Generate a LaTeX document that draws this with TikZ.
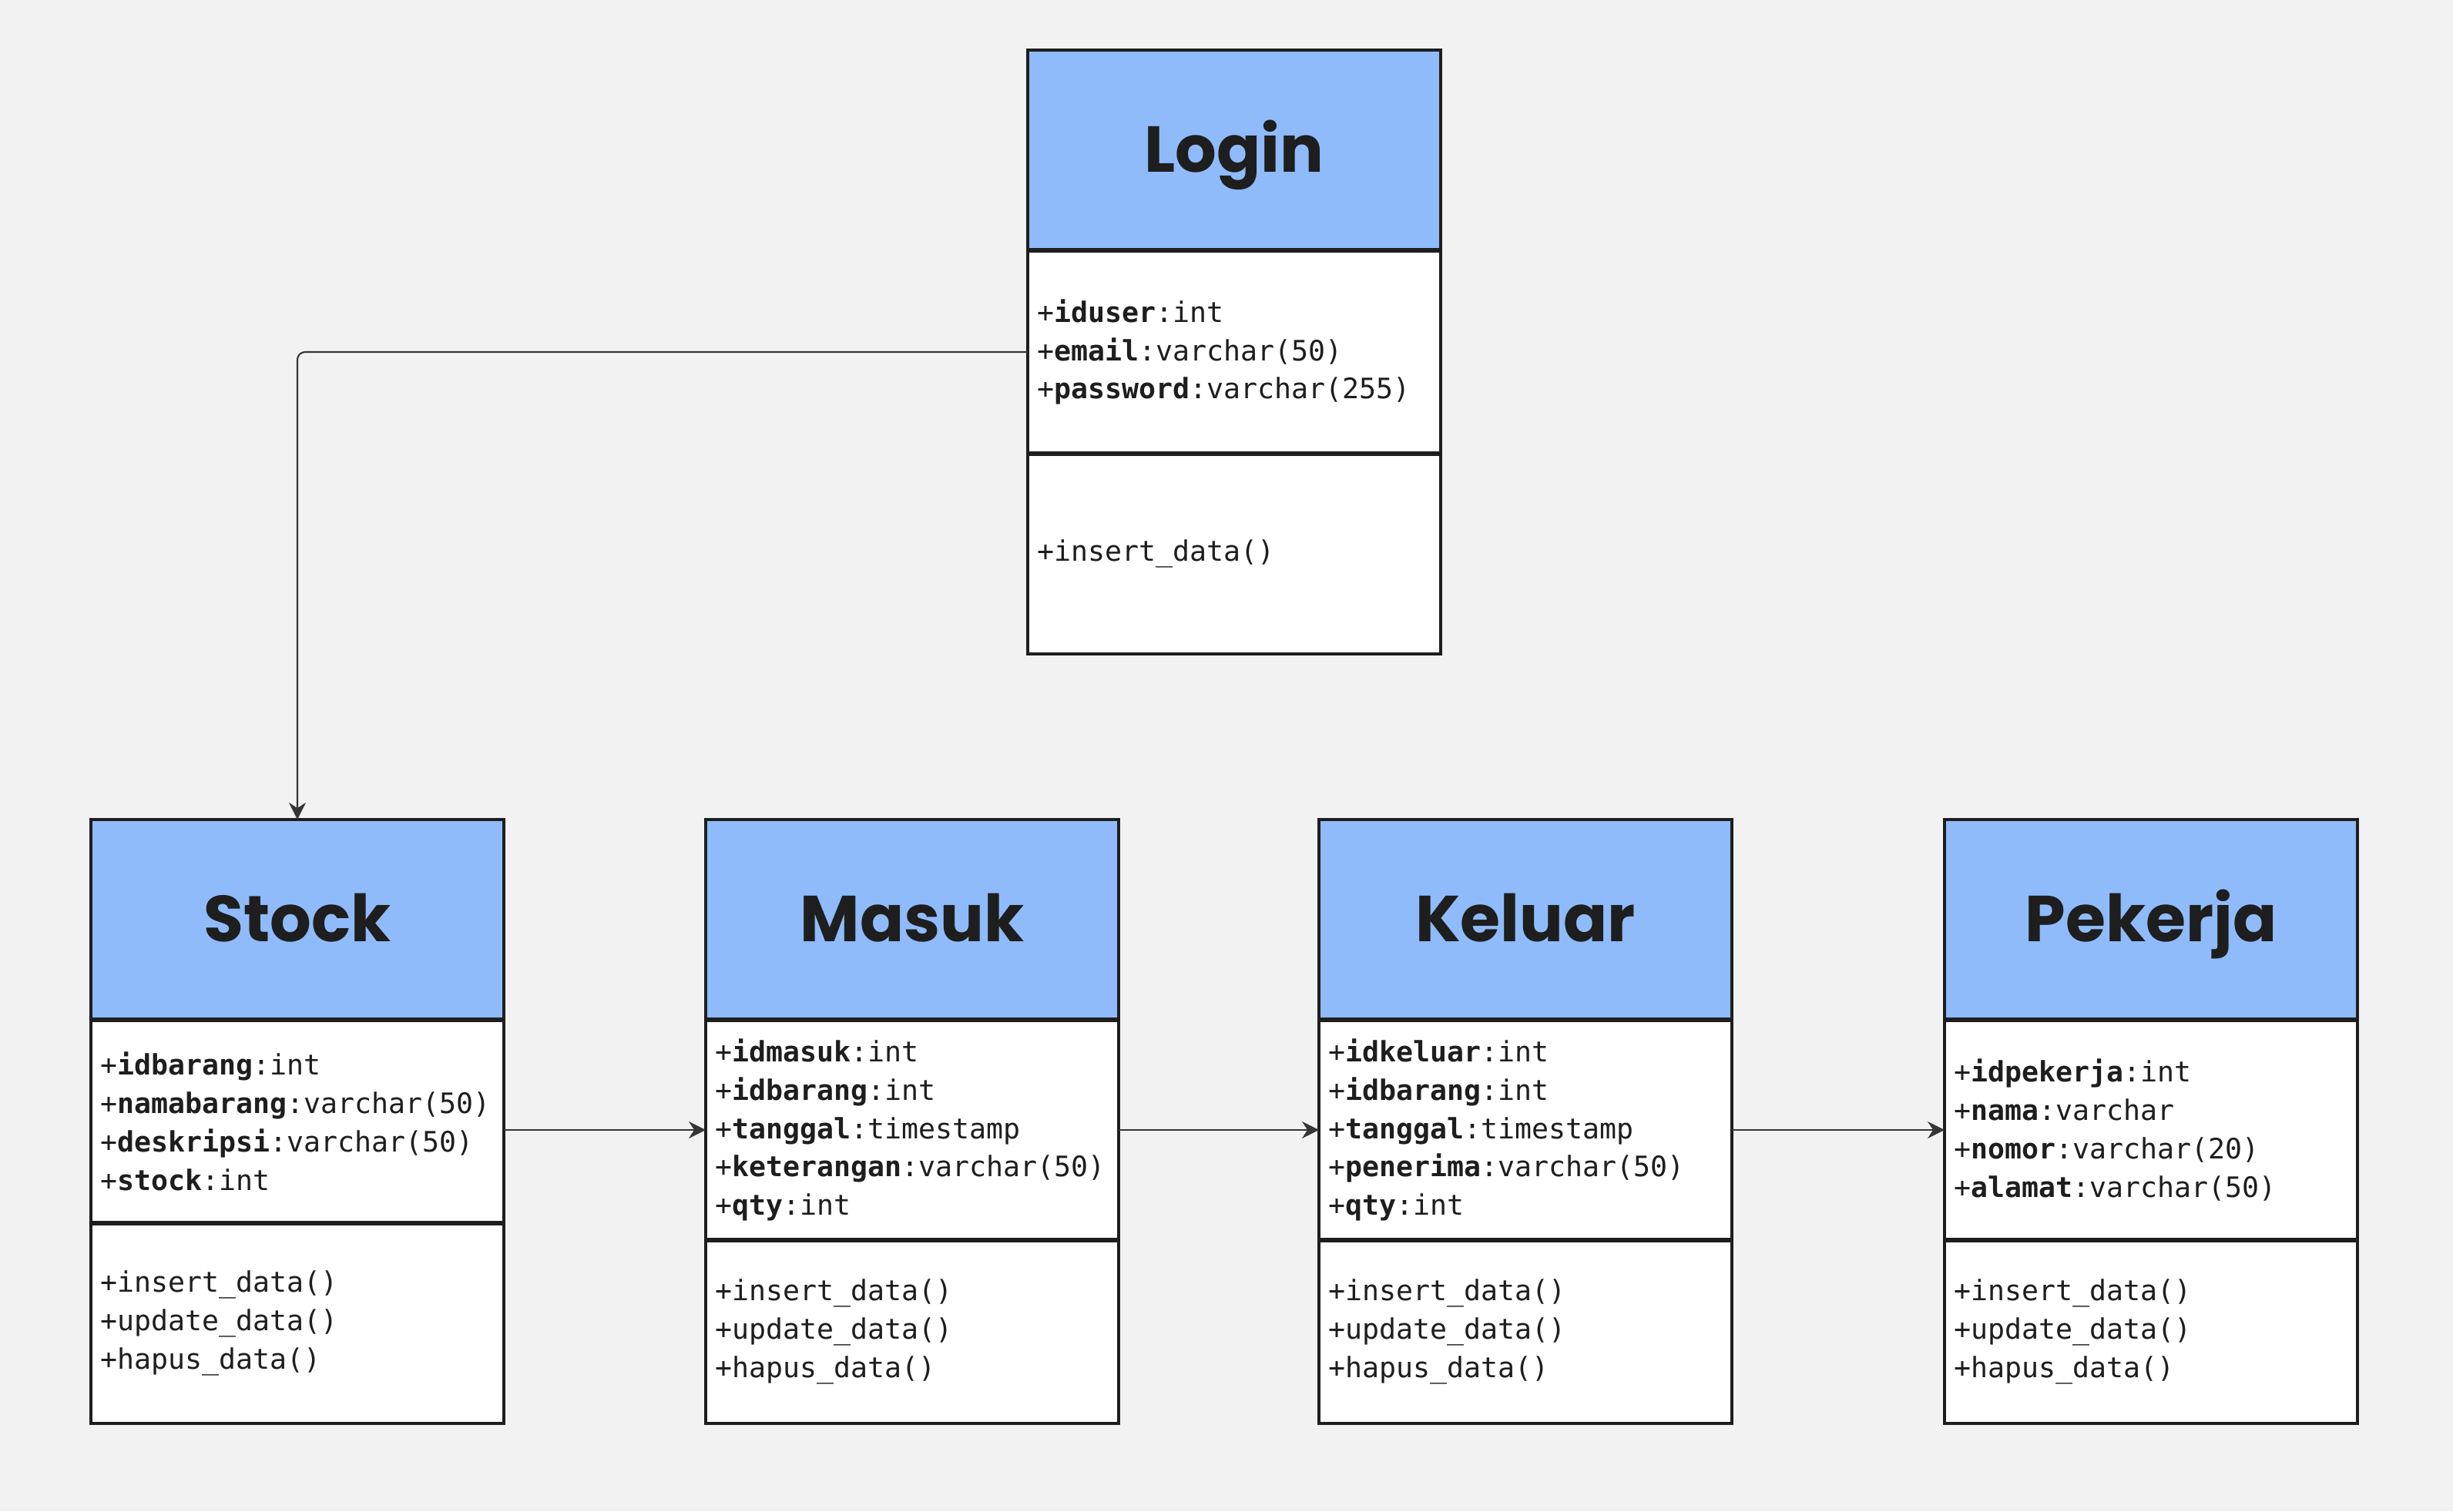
\documentclass[tikz,border=0pt]{standalone}
\usepackage{fontspec}
\setmonofont{DejaVu Sans Mono}
\newfontfamily\titlefont{Poppins}
\usetikzlibrary{positioning,arrows.meta}
\definecolor{hdrblue}{HTML}{8FBBFA}
\definecolor{bggray}{HTML}{F2F2F2}
\definecolor{edge}{HTML}{1E1E1E}
\tikzset{
  classhead/.style={draw=edge, line width=0.9pt, fill=hdrblue, minimum width=5.36cm,
    minimum height=2.6cm, inner sep=0pt, outer sep=0pt, text=edge,
    text height=16.5pt, text depth=0pt,
    font=\titlefont\bfseries\fontsize{24pt}{28pt}\selectfont},
  classpart/.style={draw=edge, line width=0.9pt, fill=white, text width=5.12cm,
    inner xsep=1.2mm, inner ysep=0pt, outer sep=0pt, align=left, text=edge,
    font=\ttfamily\fontsize{10.4pt}{14.2pt}\selectfont},
  sepline/.style={edge, line width=1.5pt},
  link/.style={edge!90, line width=0.6pt, -{Stealth[length=2.2mm,width=2.2mm]}}
}
\begin{document}
\begin{tikzpicture}
\useasboundingbox (0,0) rectangle (31.84,19.62);
\fill [bggray] (0,0) rectangle (31.84,19.62);

% Login
\node[classhead] (login) at (16.02,17.67) {Login};
\node[classpart, minimum height=2.64cm, below=0pt of login] (login-attr)
  {+\textbf{iduser}:int\\+\textbf{email}:varchar(50)\\+\textbf{password}:varchar(255)};
\node[classpart, minimum height=2.60cm, below=0pt of login-attr] (login-meth)
  {+insert\_data()};

% Stock
\node[classhead] (stock) at (3.86,7.68) {Stock};
\node[classpart, minimum height=2.64cm, below=0pt of stock] (stock-attr)
  {+\textbf{idbarang}:int\\+\textbf{namabarang}:varchar(50)\\+\textbf{deskripsi}:varchar(50)\\+\textbf{stock}:int};
\node[classpart, minimum height=2.60cm, below=0pt of stock-attr] (stock-meth)
  {+insert\_data()\\+update\_data()\\+hapus\_data()};

% Masuk
\node[classhead] (masuk) at (11.84,7.68) {Masuk};
\node[classpart, minimum height=2.86cm, below=0pt of masuk] (masuk-attr)
  {+\textbf{idmasuk}:int\\+\textbf{idbarang}:int\\+\textbf{tanggal}:timestamp\\+\textbf{keterangan}:varchar(50)\\+\textbf{qty}:int};
\node[classpart, minimum height=2.38cm, below=0pt of masuk-attr] (masuk-meth)
  {+insert\_data()\\+update\_data()\\+hapus\_data()};

% Keluar
\node[classhead] (keluar) at (19.80,7.68) {Keluar};
\node[classpart, minimum height=2.86cm, below=0pt of keluar] (keluar-attr)
  {+\textbf{idkeluar}:int\\+\textbf{idbarang}:int\\+\textbf{tanggal}:timestamp\\+\textbf{penerima}:varchar(50)\\+\textbf{qty}:int};
\node[classpart, minimum height=2.38cm, below=0pt of keluar-attr] (keluar-meth)
  {+insert\_data()\\+update\_data()\\+hapus\_data()};

% Pekerja
\node[classhead] (pekerja) at (27.92,7.68) {Pekerja};
\node[classpart, minimum height=2.86cm, below=0pt of pekerja] (pekerja-attr)
  {+\textbf{idpekerja}:int\\+\textbf{nama}:varchar\\+\textbf{nomor}:varchar(20)\\+\textbf{alamat}:varchar(50)};
\node[classpart, minimum height=2.38cm, below=0pt of pekerja-attr] (pekerja-meth)
  {+insert\_data()\\+update\_data()\\+hapus\_data()};

% thicker separators
\foreach \c in {login,stock,masuk,keluar,pekerja} {
  \draw[sepline] (\c.south west) -- (\c.south east);
  \draw[sepline] (\c-attr.south west) -- (\c-attr.south east);
}

% connectors
\draw[link, rounded corners=1mm] (login-attr.west) -| (stock.north);
\draw[link] (stock-attr.east |- masuk-attr.west) -- (masuk-attr.west);
\draw[link] (masuk-attr.east) -- (keluar-attr.west);
\draw[link] (keluar-attr.east) -- (pekerja-attr.west);
\end{tikzpicture}
\end{document}
